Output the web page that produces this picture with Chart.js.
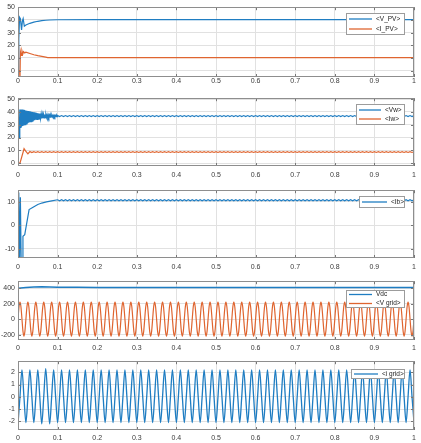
<!DOCTYPE html>
<html><head><meta charset="utf-8">
<script src="https://cdn.jsdelivr.net/npm/chart.js@4.4.0/dist/chart.umd.min.js"></script>
<style>
html,body{margin:0;padding:0;background:#fff;width:421px;height:443px;overflow:hidden}
body{position:relative}
.p{position:absolute;left:0;width:421px}
canvas{display:block}
</style></head><body>
<div class="p" id="c1"><canvas id="k1"></canvas></div>
<div class="p" id="c2"><canvas id="k2"></canvas></div>
<div class="p" id="c3"><canvas id="k3"></canvas></div>
<div class="p" id="c4"><canvas id="k4"></canvas></div>
<div class="p" id="c5"><canvas id="k5"></canvas></div>
<script>
// ---------- DATA ----------
const xTicks = [0,0.1,0.2,0.3,0.4,0.5,0.6,0.7,0.8,0.9,1];

// Plot 1: PV voltage / current
const yTicks1 = [0,10,20,30,40,50];
const tVpv = [0,0.002,0.004,0.006,0.009,0.011,0.013,0.016,0.02,0.03,0.04,0.05,0.06,0.07,0.08,0.1,0.2,0.3,0.4,0.5,0.6,0.7,0.8,0.9,1];
const vPV  = [0,25,42,41,32,39,41,35,36,37.3,38.2,38.9,39.4,39.7,39.9,40.1,40.2,40.2,40.2,40.2,40.2,40.2,40.2,40.2,40.2];
const tIpv = [0,0.004,0.005,0.006,0.008,0.01,0.012,0.014,0.017,0.02,0.03,0.04,0.05,0.06,0.07,0.075,0.1,0.2,0.3,0.4,0.5,0.6,0.7,0.8,0.9,1];
const iPV  = [0,0,-7,15,12,15.5,13,15,14,14.5,13.5,12.5,11.8,11.2,10.6,10.3,10.2,10.2,10.2,10.2,10.2,10.2,10.2,10.2,10.2,10.2];

// Plot 2: wind voltage / current
const yTicks2 = [0,10,20,30,40,50];
const tVwHead = [0,0.0015,0.003];
const vwHead  = [50,50,20];
const vwOscStart = 0.0045, vwOscStep = 0.0015;
const vwOsc = [42,28,42,28.5,42,29,41.8,29.5,41.5,30,41.2,30.6,41,31,40.8,31.5,
  40.6,32,40.4,32.4,40.1,32.8,39.9,33.2,39.7,33.6,39.5,33.9,39.3,34.2,39.1,34.4,
  38.9,34.6,38.7,34.8,38.5,35,38.3,35.2,38.2,35.4,38,35.6,37.9,35.7,37.8,35.8,
  37.7,35.9,37.6,36,37.5,36.1,37.5,36.1,37.4,36.2,37.4,36.2,37.3,36.3,37.3,36.3];
const steadyStart = 0.1, steadyStep = 0.005;
const vwSteady = [
  37.2,36.4,37.2,36.4,37.2,36.4,37.2,36.4,37.2,36.4,37.2,36.4,37.2,36.4,37.2,36.4,37.2,36.4,37.2,36.4,
  37.2,36.4,37.2,36.4,37.2,36.4,37.2,36.4,37.2,36.4,37.2,36.4,37.2,36.4,37.2,36.4,37.2,36.4,37.2,36.4,
  37.2,36.4,37.2,36.4,37.2,36.4,37.2,36.4,37.2,36.4,37.2,36.4,37.2,36.4,37.2,36.4,37.2,36.4,37.2,36.4,
  37.2,36.4,37.2,36.4,37.2,36.4,37.2,36.4,37.2,36.4,37.2,36.4,37.2,36.4,37.2,36.4,37.2,36.4,37.2,36.4,
  37.2,36.4,37.2,36.4,37.2,36.4,37.2,36.4,37.2,36.4,37.2,36.4,37.2,36.4,37.2,36.4,37.2,36.4,37.2,36.4,
  37.2,36.4,37.2,36.4,37.2,36.4,37.2,36.4,37.2,36.4,37.2,36.4,37.2,36.4,37.2,36.4,37.2,36.4,37.2,36.4,
  37.2,36.4,37.2,36.4,37.2,36.4,37.2,36.4,37.2,36.4,37.2,36.4,37.2,36.4,37.2,36.4,37.2,36.4,37.2,36.4,
  37.2,36.4,37.2,36.4,37.2,36.4,37.2,36.4,37.2,36.4,37.2,36.4,37.2,36.4,37.2,36.4,37.2,36.4,37.2,36.4,
  37.2,36.4,37.2,36.4,37.2,36.4,37.2,36.4,37.2,36.4,37.2,36.4,37.2,36.4,37.2,36.4,37.2,36.4,37.2,36.4,
  37.2];
const tIwHead = [0,0.005,0.0153,0.019,0.025,0.03,0.035,0.04,0.045,0.05,0.055,0.06,0.065,0.07,0.075,0.08,0.085,0.09,0.095];
const iwHead  = [0,0,11.2,9.5,7.2,9,8.2,8.9,8.3,8.9,8.3,8.9,8.3,8.9,8.3,8.9,8.3,8.9,8.3];
const iwSteady = [
  8.9,8.3,8.9,8.3,8.9,8.3,8.9,8.3,8.9,8.3,8.9,8.3,8.9,8.3,8.9,8.3,8.9,8.3,8.9,8.3,
  8.9,8.3,8.9,8.3,8.9,8.3,8.9,8.3,8.9,8.3,8.9,8.3,8.9,8.3,8.9,8.3,8.9,8.3,8.9,8.3,
  8.9,8.3,8.9,8.3,8.9,8.3,8.9,8.3,8.9,8.3,8.9,8.3,8.9,8.3,8.9,8.3,8.9,8.3,8.9,8.3,
  8.9,8.3,8.9,8.3,8.9,8.3,8.9,8.3,8.9,8.3,8.9,8.3,8.9,8.3,8.9,8.3,8.9,8.3,8.9,8.3,
  8.9,8.3,8.9,8.3,8.9,8.3,8.9,8.3,8.9,8.3,8.9,8.3,8.9,8.3,8.9,8.3,8.9,8.3,8.9,8.3,
  8.9,8.3,8.9,8.3,8.9,8.3,8.9,8.3,8.9,8.3,8.9,8.3,8.9,8.3,8.9,8.3,8.9,8.3,8.9,8.3,
  8.9,8.3,8.9,8.3,8.9,8.3,8.9,8.3,8.9,8.3,8.9,8.3,8.9,8.3,8.9,8.3,8.9,8.3,8.9,8.3,
  8.9,8.3,8.9,8.3,8.9,8.3,8.9,8.3,8.9,8.3,8.9,8.3,8.9,8.3,8.9,8.3,8.9,8.3,8.9,8.3,
  8.9,8.3,8.9,8.3,8.9,8.3,8.9,8.3,8.9,8.3,8.9,8.3,8.9,8.3,8.9,8.3,8.9,8.3,8.9,8.3,
  8.9];

// Plot 3: battery current
const yTicks3 = [-10,0,10];
const tIbHead = [0,0.002,0.004,0.006,0.008,0.0105,0.0125,0.017,0.028,0.038,0.05,0.06,0.072,0.085];
const ibHead  = [14,13.5,-16,12,-16,-16,-4.7,-4,6.7,7.7,8.9,9.5,10,10.4];
const ibSteady = [
  10.9,10.5,10.9,10.5,10.9,10.5,10.9,10.5,10.9,10.5,10.9,10.5,10.9,10.5,10.9,10.5,10.9,10.5,10.9,10.5,
  10.9,10.5,10.9,10.5,10.9,10.5,10.9,10.5,10.9,10.5,10.9,10.5,10.9,10.5,10.9,10.5,10.9,10.5,10.9,10.5,
  10.9,10.5,10.9,10.5,10.9,10.5,10.9,10.5,10.9,10.5,10.9,10.5,10.9,10.5,10.9,10.5,10.9,10.5,10.9,10.5,
  10.9,10.5,10.9,10.5,10.9,10.5,10.9,10.5,10.9,10.5,10.9,10.5,10.9,10.5,10.9,10.5,10.9,10.5,10.9,10.5,
  10.9,10.5,10.9,10.5,10.9,10.5,10.9,10.5,10.9,10.5,10.9,10.5,10.9,10.5,10.9,10.5,10.9,10.5,10.9,10.5,
  10.9,10.5,10.9,10.5,10.9,10.5,10.9,10.5,10.9,10.5,10.9,10.5,10.9,10.5,10.9,10.5,10.9,10.5,10.9,10.5,
  10.9,10.5,10.9,10.5,10.9,10.5,10.9,10.5,10.9,10.5,10.9,10.5,10.9,10.5,10.9,10.5,10.9,10.5,10.9,10.5,
  10.9,10.5,10.9,10.5,10.9,10.5,10.9,10.5,10.9,10.5,10.9,10.5,10.9,10.5,10.9,10.5,10.9,10.5,10.9,10.5,
  10.9,10.5,10.9,10.5,10.9,10.5,10.9,10.5,10.9,10.5,10.9,10.5,10.9,10.5,10.9,10.5,10.9,10.5,10.9,10.5,
  10.9];

// Plot 4: DC link voltage / grid voltage
const yTicks4 = [-200,0,200,400];
const tVdc = [0,0.02,0.04,0.06,0.08,0.1,0.15,0.2,0.3,0.4,0.5,0.6,0.7,0.8,0.9,1];
const vdc  = [400,410,416,418,416,413,411,410,410,410,410,410,410,410,410,410];
const vGridStart = 0, vGridStep = 0.0025;
const vGrid = [
  0,156,220,156,0,-156,-220,-156,0,156,220,156,0,-156,-220,-156,0,156,220,156,0,-156,-220,-156,0,156,220,156,0,-156,-220,-156,0,156,220,156,0,-156,-220,-156,
  0,156,220,156,0,-156,-220,-156,0,156,220,156,0,-156,-220,-156,0,156,220,156,0,-156,-220,-156,0,156,220,156,0,-156,-220,-156,0,156,220,156,0,-156,-220,-156,
  0,156,220,156,0,-156,-220,-156,0,156,220,156,0,-156,-220,-156,0,156,220,156,0,-156,-220,-156,0,156,220,156,0,-156,-220,-156,0,156,220,156,0,-156,-220,-156,
  0,156,220,156,0,-156,-220,-156,0,156,220,156,0,-156,-220,-156,0,156,220,156,0,-156,-220,-156,0,156,220,156,0,-156,-220,-156,0,156,220,156,0,-156,-220,-156,
  0,156,220,156,0,-156,-220,-156,0,156,220,156,0,-156,-220,-156,0,156,220,156,0,-156,-220,-156,0,156,220,156,0,-156,-220,-156,0,156,220,156,0,-156,-220,-156,
  0,156,220,156,0,-156,-220,-156,0,156,220,156,0,-156,-220,-156,0,156,220,156,0,-156,-220,-156,0,156,220,156,0,-156,-220,-156,0,156,220,156,0,-156,-220,-156,
  0,156,220,156,0,-156,-220,-156,0,156,220,156,0,-156,-220,-156,0,156,220,156,0,-156,-220,-156,0,156,220,156,0,-156,-220,-156,0,156,220,156,0,-156,-220,-156,
  0,156,220,156,0,-156,-220,-156,0,156,220,156,0,-156,-220,-156,0,156,220,156,0,-156,-220,-156,0,156,220,156,0,-156,-220,-156,0,156,220,156,0,-156,-220,-156,
  0,156,220,156,0,-156,-220,-156,0,156,220,156,0,-156,-220,-156,0,156,220,156,0,-156,-220,-156,0,156,220,156,0,-156,-220,-156,0,156,220,156,0,-156,-220,-156,
  0,156,220,156,0,-156,-220,-156,0,156,220,156,0,-156,-220,-156,0,156,220,156,0,-156,-220,-156,0,156,220,156,0,-156,-220,-156,0,156,220,156,0,-156,-220,-156,
  0];

// Plot 5: grid current
const yTicks5 = [-2,-1,0,1,2];
const iGridStart = 0, iGridStep = 0.005;
const iGrid = [
  -2.2,0,2.2,0,-2.1,0,2.2,0,-2.1,0,2.2,0,-2.2,0,2.3,0,-2.2,0,2.2,0,
  -2.1,0,2.2,0,-2.1,0,2.2,0,-2.1,0,2.2,0,-2.1,0,2.2,0,-2.1,0,2.2,0,
  -2.1,0,2.2,0,-2.1,0,2.2,0,-2.1,0,2.2,0,-2.1,0,2.2,0,-2.1,0,2.2,0,
  -2.1,0,2.2,0,-2.1,0,2.2,0,-2.1,0,2.2,0,-2.1,0,2.2,0,-2.1,0,2.2,0,
  -2.1,0,2.2,0,-2.1,0,2.2,0,-2.1,0,2.2,0,-2.1,0,2.2,0,-2.1,0,2.2,0,
  -2.1,0,2.2,0,-2.1,0,2.2,0,-2.1,0,2.2,0,-2.1,0,2.2,0,-2.1,0,2.2,0,
  -2.1,0,2.2,0,-2.1,0,2.2,0,-2.1,0,2.2,0,-2.1,0,2.2,0,-2.1,0,2.2,0,
  -2.1,0,2.2,0,-2.1,0,2.2,0,-2.1,0,2.2,0,-2.1,0,2.2,0,-2.1,0,2.2,0,
  -2.1,0,2.2,0,-2.1,0,2.2,0,-2.1,0,2.2,0,-2.1,0,2.2,0,-2.1,0,2.2,0,
  -2.1,0,2.2,0,-2.1,0,2.2,0,-2.1,0,2.2,0,-2.1,0,2.2,0,-2.1,0,2.2,0,
  -2.1];

// ---------- HELPERS ----------
function pts(ts, vs){ return vs.map((v,i)=>({x:ts[i], y:v})); }
function reg(t0, dt, vs){ return vs.map((v,i)=>({x:+(t0+dt*i).toFixed(6), y:v})); }

const BLUE = '#1f7dc2', ORANGE = '#df6530';
const FONTFAM = '"Liberation Sans", Arial, Helvetica, sans-serif';

const boxPlugin = {
  id:'boxPlugin',
  afterDraw(chart, args, opts){
    const ctx = chart.ctx, a = chart.chartArea;
    const xs = chart.scales.x, ys = chart.scales.y;
    ctx.save();
    ctx.lineWidth = 1;
    ctx.strokeStyle = '#777';
    ctx.beginPath();
    xs.ticks.forEach(t=>{
      const px = Math.round(xs.getPixelForValue(t.value))+0.5;
      ctx.moveTo(px, a.bottom); ctx.lineTo(px, a.bottom-3);
      ctx.moveTo(px, a.top); ctx.lineTo(px, a.top+3);
    });
    ys.ticks.forEach(t=>{
      const py = Math.round(ys.getPixelForValue(t.value))+0.5;
      ctx.moveTo(a.left, py); ctx.lineTo(a.left+3, py);
      ctx.moveTo(a.right, py); ctx.lineTo(a.right-3, py);
    });
    ctx.stroke();
    ctx.strokeStyle = '#8e8e8e';
    ctx.strokeRect(Math.round(a.left)+0.5, Math.round(a.top)+0.5,
                   Math.round(a.right-a.left)-1, Math.round(a.bottom-a.top)-1);
    const L = opts.legend;
    if (L){
      const bx = Math.round(a.right - L.dx - L.w), by = Math.round(a.top + L.dy);
      ctx.fillStyle = '#fff';
      ctx.fillRect(bx, by, L.w, L.h);
      ctx.strokeStyle = '#9c9c9c';
      ctx.strokeRect(bx+0.5, by+0.5, L.w-1, L.h-1);
      const ds = chart.data.datasets, n = ds.length;
      ctx.font = '6.5px ' + FONTFAM;
      ctx.textBaseline = 'middle';
      ctx.textAlign = 'left';
      ds.forEach((d,i)=>{
        const cy = by + L.h/2 + (i-(n-1)/2)*L.rowH;
        ctx.strokeStyle = d.borderColor; ctx.lineWidth = 1.3;
        ctx.beginPath(); ctx.moveTo(bx+3, cy); ctx.lineTo(bx+3+L.line, cy); ctx.stroke();
        ctx.fillStyle = '#222';
        ctx.fillText(d.label, bx+3+L.line+4, cy);
      });
    }
    ctx.restore();
  }
};
Chart.register(boxPlugin);

function makeChart(id, cfg){
  const pad = cfg.padTop;
  const h = (cfg.bottom - cfg.top) + pad + cfg.xH;
  const el = document.getElementById('c'+id);
  el.style.top = (cfg.top - pad) + 'px';
  el.style.height = h + 'px';
  const cv = document.getElementById('k'+id);
  cv.width = 421; cv.height = h;
  cv.style.width = '421px'; cv.style.height = h + 'px';
  const tickFont = {family:FONTFAM, size:7};
  new Chart(cv, {
    type:'line',
    data:{ datasets: cfg.datasets.map(d=>({
      label:d.label, data:d.data, borderColor:d.color, backgroundColor:d.color,
      borderWidth:d.width||1.2, pointRadius:0, fill:false, tension:0, clip:0, order:d.order||0,
      cubicInterpolationMode: d.smooth ? 'monotone' : 'default'
    }))},
    options:{
      responsive:false, animation:false, events:[],
      layout:{padding:{top:pad, right:7, left:0, bottom:0}},
      plugins:{legend:{display:false}, tooltip:{enabled:false}, boxPlugin:{legend:cfg.legend}},
      scales:{
        x:{type:'linear', min:0, max:1,
           afterBuildTicks:s=>{ s.ticks = xTicks.map(v=>({value:v})); },
           afterFit:s=>{ s.height = cfg.xH; },
           ticks:{padding:cfg.xPad, font:tickFont, color:'#3a3a3a', maxRotation:0, autoSkip:false,
                  callback:v=>String(Math.round(v*10)/10)},
           grid:{color:'#e1e1e1', lineWidth:1, drawTicks:false},
           border:{display:false}},
        y:{type:'linear', min:cfg.ymin, max:cfg.ymax,
           afterBuildTicks:s=>{ s.ticks = cfg.yTicks.map(v=>({value:v})); },
           afterFit:s=>{ s.width = 18; },
           ticks:{padding:3, font:tickFont, color:'#3a3a3a', autoSkip:false, callback:v=>String(v)},
           grid:{color:'#e1e1e1', lineWidth:1, drawTicks:false},
           border:{display:false}}
      }
    }
  });
}

makeChart(1, {top:3, bottom:77, padTop:3, xH:10, xPad:0, ymin:-5, ymax:50, yTicks:yTicks1,
  legend:{w:59, h:22, dx:9, dy:6, rowH:10, line:23},
  datasets:[
    {label:'<V_PV>', data:pts(tVpv, vPV), color:BLUE, order:1},
    {label:'<I_PV>', data:pts(tIpv, iPV), color:ORANGE, order:0}
  ]});

makeChart(2, {top:97, bottom:166, padTop:6, xH:14, xPad:5, ymin:-2.3, ymax:50.8, yTicks:yTicks2,
  legend:{w:49, h:21, dx:9, dy:6, rowH:9, line:22},
  datasets:[
    {label:'<Vw>', data:pts(tVwHead, vwHead).concat(reg(vwOscStart, vwOscStep, vwOsc), reg(steadyStart, steadyStep, vwSteady)), color:BLUE, order:1},
    {label:'<Iw>', data:pts(tIwHead, iwHead).concat(reg(steadyStart, steadyStep, iwSteady)), color:ORANGE, order:0}
  ]});

makeChart(3, {top:189, bottom:258, padTop:6, xH:14, xPad:5, ymin:-14, ymax:15, yTicks:yTicks3,
  legend:{w:46, h:12, dx:9, dy:6, rowH:10, line:25},
  datasets:[
    {label:'<Ib>', data:pts(tIbHead, ibHead).concat(reg(steadyStart, steadyStep, ibSteady)), color:BLUE}
  ]});

makeChart(4, {top:280, bottom:340, padTop:6, xH:14, xPad:4, ymin:-270, ymax:490, yTicks:yTicks4,
  legend:{w:59, h:18, dx:9, dy:9, rowH:9, line:23},
  datasets:[
    {label:'Vdc', data:pts(tVdc, vdc), color:BLUE, order:1, width:1.5},
    {label:'<V grid>', data:reg(vGridStart, vGridStep, vGrid), color:ORANGE, order:0, smooth:true}
  ]});

makeChart(5, {top:360, bottom:430, padTop:6, xH:14, xPad:4, ymin:-2.7, ymax:2.9, yTicks:yTicks5,
  legend:{w:54, h:10, dx:9, dy:8, rowH:10, line:24},
  datasets:[
    {label:'<i grid>', data:reg(iGridStart, iGridStep, iGrid), color:BLUE, smooth:true, width:1.3}
  ]});
</script>
</body></html>
